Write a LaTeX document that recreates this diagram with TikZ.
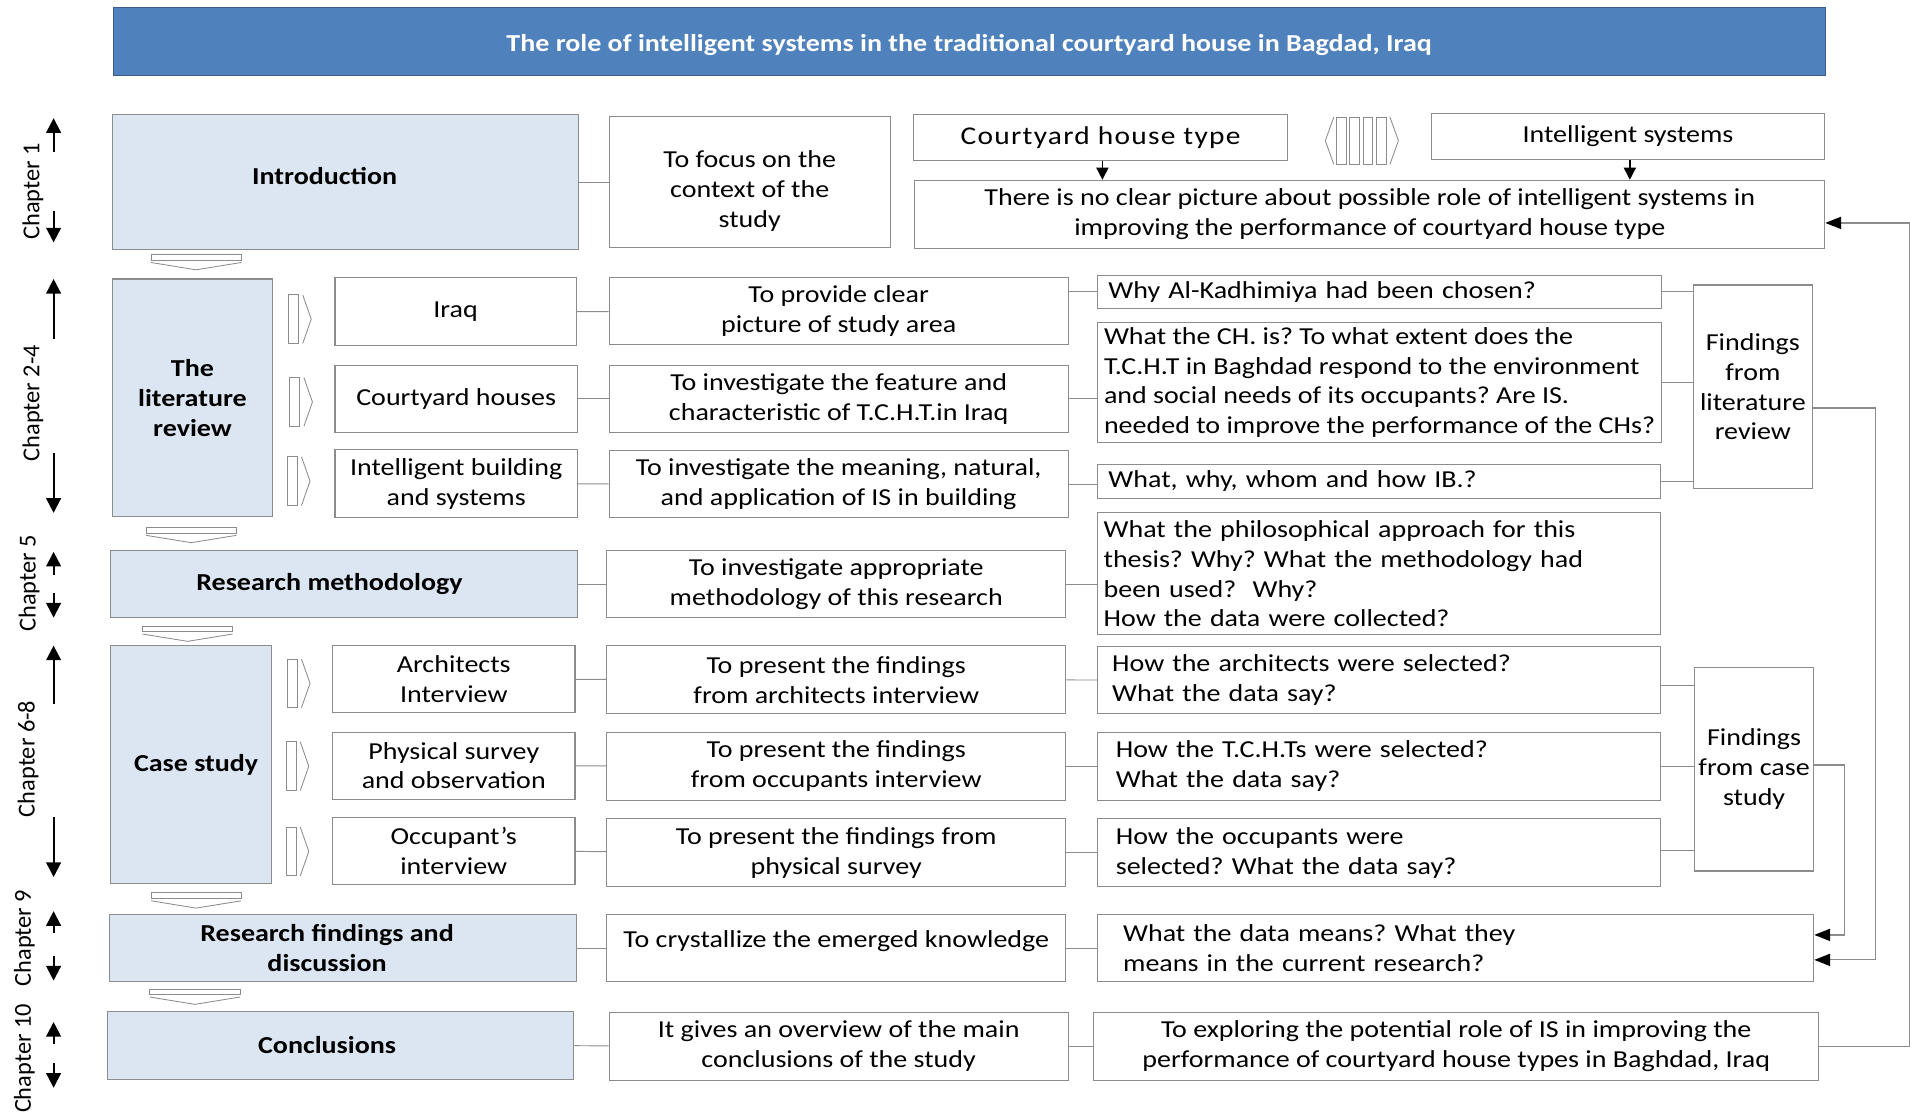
\documentclass[tikz,border=0pt]{standalone}
\usepackage{fontspec}
\setmainfont{Carlito}[FakeStretch=1.15]
\newfontfamily\chapfont{Carlito}
\usetikzlibrary{arrows.meta}

\definecolor{titleblue}{HTML}{4F81BD}
\definecolor{titleedge}{HTML}{385D8A}
\definecolor{paleblue}{HTML}{DCE6F2}
\definecolor{edgegray}{HTML}{8C8C8C}

\tikzset{
  mainbox/.style={draw=edgegray, fill=paleblue, line width=0.9pt, font=\fontsize{20}{24.5}\selectfont\bfseries, align=center, inner sep=0pt},
  subbox/.style={draw=edgegray, fill=white, line width=0.9pt, align=center, inner sep=0pt},
  askbox/.style={draw=edgegray, fill=white, line width=0.9pt, align=left, inner ysep=0pt},
  link/.style={draw=edgegray, line width=0.8pt},
  feed/.style={draw=edgegray, line width=1pt, -{Triangle[length=13pt,width=10pt,black]}},
  chaparrow/.style={line width=1.7pt, -{Triangle[length=12pt,width=12pt]}},
  downarrow/.style={line width=1.2pt, -{Triangle[length=10pt,width=10pt]}},
  hollow/.style={draw=edgegray, line width=0.7pt},
}

\begin{document}
\begin{tikzpicture}[x=1pt, y=-1pt, font=\fontsize{20}{24.5}\selectfont\frenchspacing]

  \useasboundingbox (0,0) rectangle (1568,913);

  \node[draw=titleedge, fill=titleblue, text=white, font=\fontsize{20}{24.5}\selectfont\bfseries, text height=16pt, text depth=0pt, minimum width=1405pt, minimum height=56pt] at (795.5,34) (title) {The role of intelligent systems in the traditional courtyard house in Bagdad, Iraq};

%Chapters
  \node[mainbox, minimum width=383pt, minimum height=111pt] at (283.5,149.5) (intro) {Introduction\hspace*{34pt}\\[-14pt]\mbox{}};
  \node[mainbox, minimum width=132pt, minimum height=195pt] at (158,326.5) (lit) {The\\literature\\review};
  \node[mainbox, minimum width=383pt, minimum height=55pt] at (282.5,479.5) (meth) {Research methodology\hspace*{24pt}};
  \node[mainbox, minimum width=132pt, minimum height=195pt] at (157,627.5) (case) {\hspace*{8pt}Case study};
  \node[mainbox, minimum width=383pt, minimum height=55pt] at (281.5,778.5) (find) {Research findings and\hspace*{26pt}\\discussion\hspace*{26pt}};
  \node[mainbox, minimum width=383pt, minimum height=56pt] at (279.5,858) (concl) {Conclusions\hspace*{22pt}};

%Topics
  \node[subbox, minimum width=198pt, minimum height=56pt] at (374,256) (iraq) {Iraq};
  \node[subbox, minimum width=199pt, minimum height=55pt] at (374.5,327.5) (chouses) {Courtyard houses};
  \node[subbox, minimum width=199pt, minimum height=56pt] at (374.5,397) (ib) {Intelligent building\\and systems};
  \node[subbox, minimum width=199pt, minimum height=55pt] at (372.5,557.5) (arch) {Architects\\Interview};
  \node[subbox, minimum width=199pt, minimum height=55pt] at (372.5,628.5) (phys) {Physical survey\\and observation};
  \node[subbox, minimum width=199pt, minimum height=55pt] at (372.5,698.5) (occ) {Occupant’s\\interview};

%Aims
  \node[subbox, minimum width=231pt, minimum height=107pt] at (615.5,149.5) (p1) {\rule{0pt}{28pt}To focus on the\\context of the\\study};
  \node[subbox, minimum width=377pt, minimum height=55pt] at (688.5,255.5) (p2) {To provide clear\\picture of study area};
  \node[subbox, minimum width=377pt, minimum height=55pt] at (688.5,327.5) (p3) {To investigate the feature and\\characteristic of T.C.H.T.in Iraq};
  \node[subbox, minimum width=377pt, minimum height=55pt] at (688.5,397.5) (p4) {To investigate the meaning, natural,\\and application of IS in building};
  \node[subbox, minimum width=377pt, minimum height=55pt] at (686.5,479.5) (p5) {To investigate appropriate\\methodology of this research};
  \node[subbox, minimum width=377pt, minimum height=56pt] at (686.5,558) (p6) {To present the findings\\from architects interview};
  \node[subbox, minimum width=377pt, minimum height=56pt] at (686.5,629) (p7) {To present the findings\\from occupants interview};
  \node[subbox, minimum width=377pt, minimum height=56pt] at (686.5,700) (p8) {To present the findings from\\physical survey};
  \node[subbox, minimum width=377pt, minimum height=55pt] at (686.5,778.5) (p9) {To crystallize the emerged knowledge\\[-10pt]\mbox{}};
  \node[subbox, minimum width=377pt, minimum height=56pt] at (688.5,859) (p10) {It gives an overview of the main\\conclusions of the study};

%Problem
  \node[subbox, font=\fontsize{21}{24.5}\selectfont\addfontfeature{LetterSpace=5}, minimum width=307pt, minimum height=38pt] at (903.5,113) (cht) {Courtyard house type};
  \node[subbox, minimum width=323pt, minimum height=38pt] at (1336.5,112) (isys) {Intelligent systems};
  \node[subbox, minimum width=747pt, minimum height=56pt] at (1124.5,176) (prob) {There is no clear picture about possible role of intelligent systems in\\improving the performance of courtyard house type};

%Questions
  \node[askbox, inner xsep=9pt, text width=445pt, minimum height=27pt] at (1132.5,239.5) (q1) {Why Al-Kadhimiya had been chosen?};
  \node[askbox, inner xsep=0pt, minimum width=463pt, minimum height=98pt] at (1132.5,314) (q2) {What the CH. is? To what extent does the\\T.C.H.T in Baghdad respond to the environment\\and social needs of its occupants? Are IS.\\needed to improve the performance of the CHs?};
  \node[askbox, inner xsep=9pt, text width=444pt, minimum height=28pt] at (1132,395) (q3) {What, why, whom and how IB.?};
  \node[askbox, inner xsep=5pt, text width=452pt, minimum height=100pt] at (1132,471) (q4) {What the philosophical approach for this\\thesis? Why? What the methodology had\\been used?~ Why?\\How the data were collected?};
  \node[askbox, inner xsep=12pt, text width=438pt, minimum height=55pt] at (1132,558.5) (q5) {How the architects were selected?\\What the data say?};
  \node[askbox, inner xsep=15pt, text width=432pt, minimum height=56pt] at (1132,629) (q6) {How the T.C.H.Ts were selected?\\What the data say?};
  \node[askbox, inner xsep=15pt, text width=432pt, minimum height=56pt] at (1132,700) (q7) {How the occupants were\\selected? What the data say?};
  \node[askbox, inner xsep=21pt, text width=546pt, minimum height=55pt] at (1195,778.5) (q8) {What the data means? What they\\means in the current research?};
  \node[subbox, minimum width=595pt, minimum height=56pt] at (1195.5,859) (q9) {To exploring the potential role of IS in improving the\\performance of courtyard house types in Baghdad, Iraq};

  \node[subbox, minimum width=98pt, minimum height=167pt] at (1439,317.5) (flit) {Findings\\from\\literature\\review};
  \node[subbox, minimum width=98pt, minimum height=167pt] at (1440,631.5) (fcase) {Findings\\from case\\study};

%Chapter labels
  \foreach \i/\lx/\ly/\ua/\ub/\da/\db/\txt in {1/27/157/125/97/173/199/Chapter 1, 2/27/331/278/229/372/421/Chapter 2-4, 3/24/479/472/453/487/507/Chapter 5, 4/23/623/578/530/671/720/Chapter 6-8, 5/20/770/766/748/785/805/Chapter 9, 6/20/869/857/839/873/893/Chapter 10} {
    \node[rotate=90, font=\fontsize{20}{24.5}\chapfont] at (\lx,\ly) (ch\i) {\txt};
    \draw[chaparrow] (44,\ua) -- (44,\ub);
    \draw[chaparrow] (44,\da) -- (44,\db);
  }

%Block arrows
  \foreach \x/\y in {124/209, 120/433, 117/514, 124/733, 123/812} {
    \draw[hollow] (\x,\y) rectangle ++(74,4.5);
    \draw[hollow] (\x,\y+6.5) -- ++(37,6) -- ++(37,-6);
  }
  \foreach \x/\y in {237/242, 238/310, 236/375, 236/541, 235/609, 235/679} {
    \draw[hollow] (\x,\y) rectangle ++(8,40);
    \draw[hollow] (\x+11.5,\y) -- ++(7,20) -- ++(-7,20);
  }
  \draw[hollow] (1095,96) -- (1088,115.5) -- (1095,135);
  \foreach \x in {1097,1108,1119,1130} \draw[hollow] (\x,96) rectangle ++(8,39);
  \draw[hollow] (1141,96) -- (1148,115.5) -- (1141,135);

%Links
  \draw[link] (intro) -- (p1);
  \draw[link] (iraq) -- (p2);
  \draw[link] (chouses) -- (p3);
  \draw[link] (ib) -- (p4);
  \draw[link] (meth) -- (p5);
  \draw[link] (arch) -- (p6);
  \draw[link] (phys) -- (p7);
  \draw[link] (occ) -- (p8);
  \draw[link] (find) -- (p9);
  \draw[link] (concl) -- (p10);

  \draw[link] (q1.west) -- (q1.west -| p2.east);
  \draw[link] (p3.east) -- (p3.east -| q2.west);
  \draw[link] (p4.east) -- (p4.east -| q3.west);
  \draw[link] (p5.east) -- (p5.east -| q4.west);
  \draw[link] (p6) -- (q5);
  \draw[link] (p7) -- (q6);
  \draw[link] (p8) -- (q7);
  \draw[link] (p9) -- (q8);
  \draw[link] (p10) -- (q9);

  \draw[link] (q1.east) -- (q1.east -| flit.west);
  \draw[link] (q2.east) -- (q2.east -| flit.west);
  \draw[link] (q3.east) -- (q3.east -| flit.west);
  \draw[link] ([yshift=-4pt]q5.east) -- ([yshift=-4pt]q5.east -| fcase.west);
  \draw[link] (q6.east) -- (q6.east -| fcase.west);
  \draw[link] ([yshift=1.5pt]q7.east) -- ([yshift=1.5pt]q7.east -| fcase.west);

  \draw[downarrow] ([xshift=1.5pt]cht.south) -- ([xshift=1.5pt]cht.south |- prob.north);
  \draw[downarrow] ([xshift=1.5pt]isys.south) -- ([xshift=1.5pt]isys.south |- prob.north);

%Feedback
  \draw[feed] ([yshift=-17.5pt]flit.east) -- ++(51,0) |- ([yshift=-9.5pt]q8.east);
  \draw[feed] ([yshift=3.5pt]fcase.east) -- ++(25,0) |- ([yshift=11pt]q8.east);
  \draw[feed] (q9.east) -- ++(74.5,0) |- ([yshift=-7pt]prob.east);

\end{tikzpicture}
\end{document}
